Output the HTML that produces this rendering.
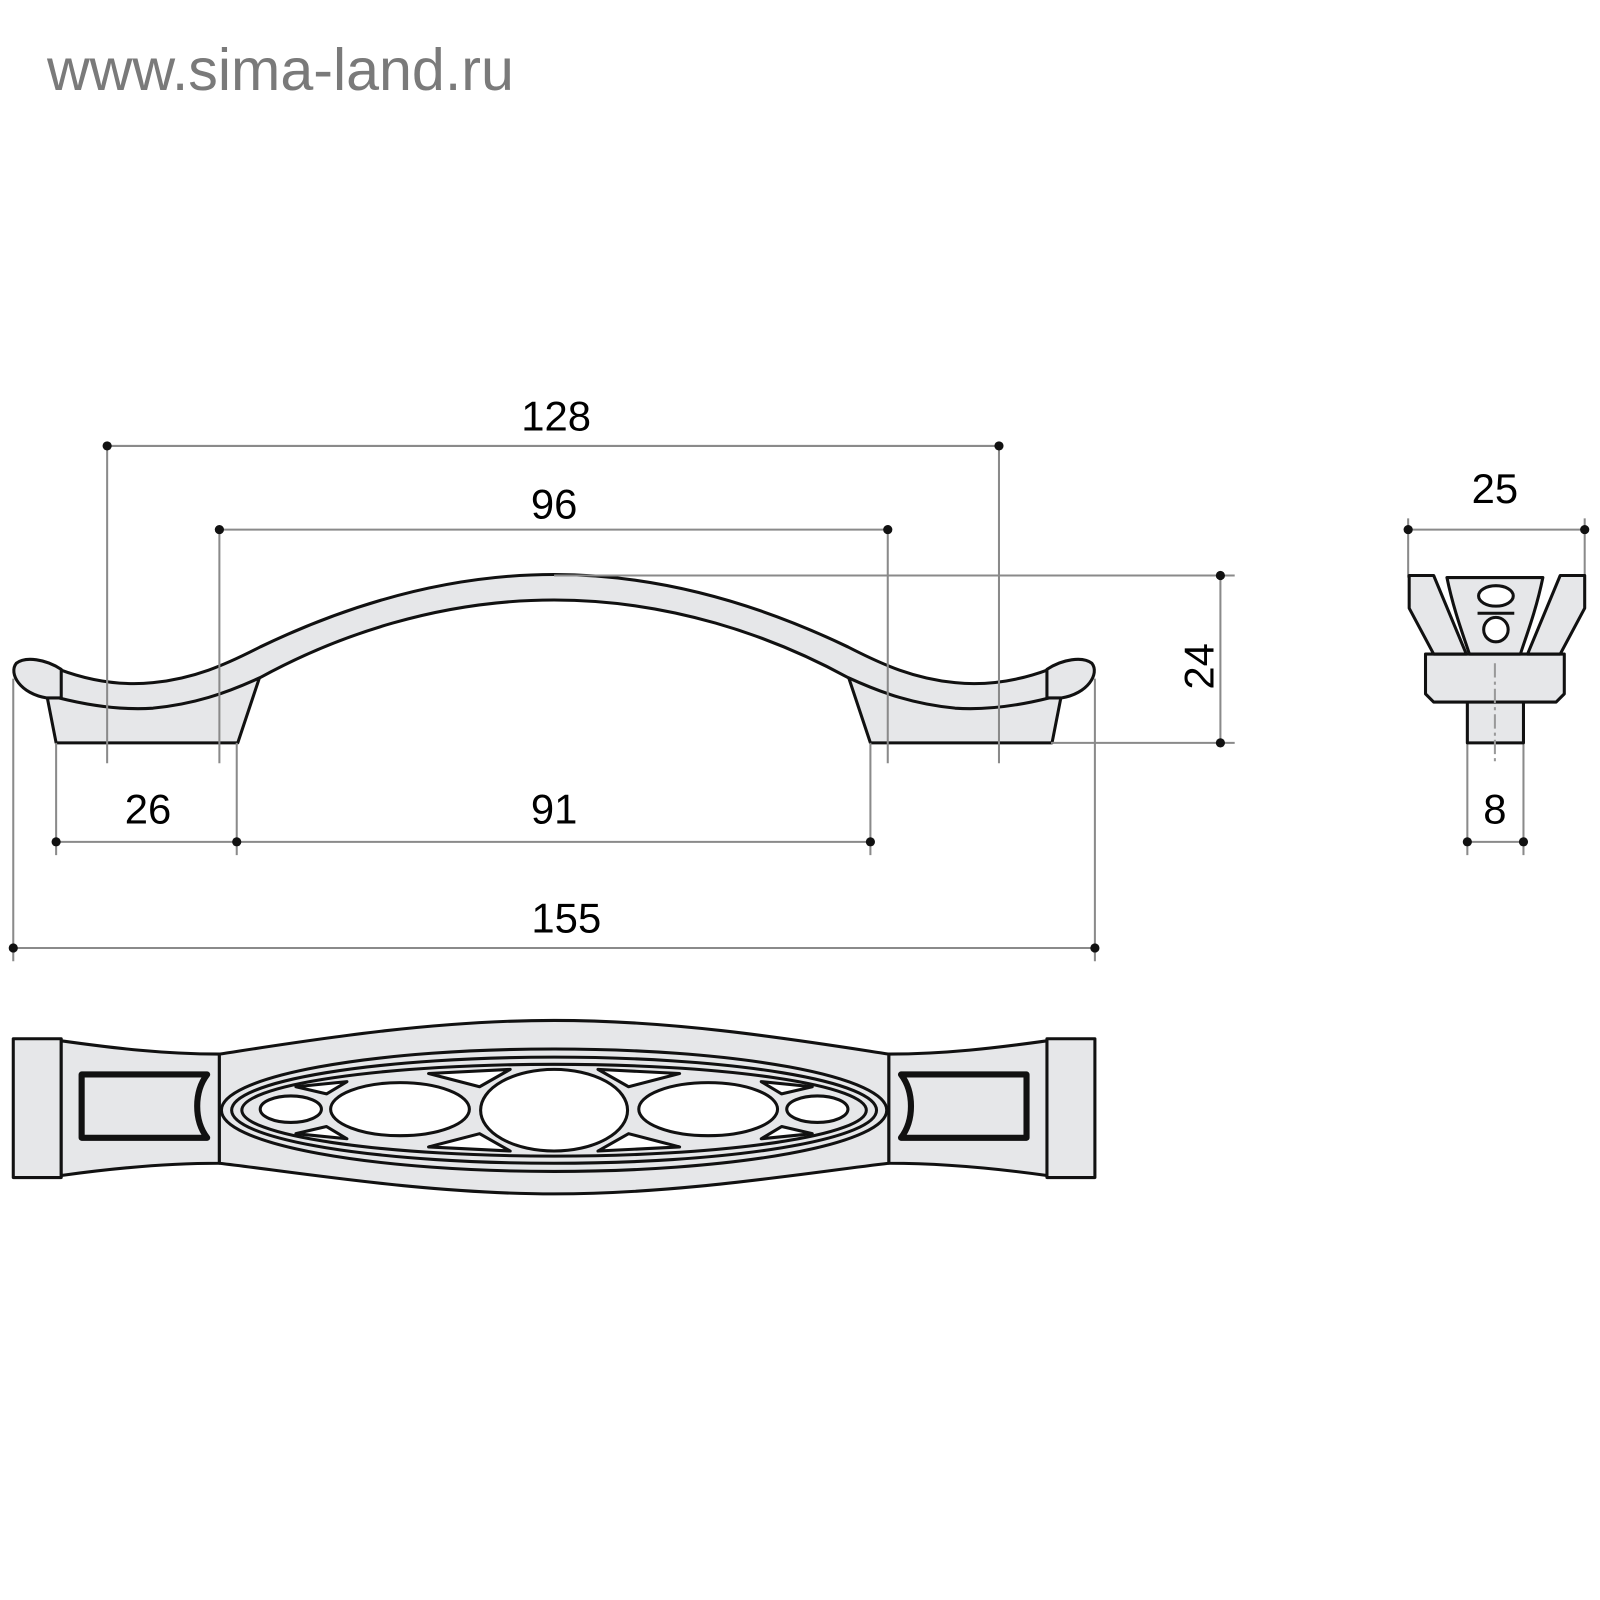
<!DOCTYPE html>
<html><head><meta charset="utf-8"><style>
html,body{margin:0;padding:0;background:#fff;width:1600px;height:1600px;overflow:hidden}
svg{display:block}
text{font-family:"Liberation Sans",sans-serif;fill:#000}
</style></head><body>
<svg width="1600" height="1600" viewBox="0 0 1568 1568" xmlns="http://www.w3.org/2000/svg">
<text x="46" y="88" font-size="58" style="fill:#7a7a7a">www.sima-land.ru</text>

<!-- side view -->
<g fill="#e6e7e9" stroke="#111" stroke-width="3" stroke-linejoin="round">
  <path d="M46,682 L55,728 L233,728 L255,662 Z"/>
  <path d="M1040,682 L1031,728 L853,728 L831,662 Z"/>
  <path d="M58,656 C90,668 120,672 150,669 C190,665 220,652 255,634 C330,598 430,563 543,563 C656,563 756,598 831,634 C866,652 896,665 936,669 C966,672 996,668 1028,656 L1028,684 C996,692 966,696 936,694 C896,690 866,680 831,664 C756,623 656,588 543,588 C430,588 330,623 255,664 C220,680 190,690 150,694 C120,696 90,692 58,684 Z"/>
  <path d="M60,656 C45,646 25,643 16,650 C8,660 20,680 46,684 L60,684 Z"/>
  <path d="M1026,656 C1041,646 1061,643 1070,650 C1078,660 1066,680 1040,684 L1026,684 Z"/>
</g>

<!-- dimension lines -->
<g stroke="#8a8a8a" stroke-width="2" fill="none">
  <line x1="105" y1="437" x2="979" y2="437"/>
  <line x1="105" y1="437" x2="105" y2="748"/>
  <line x1="979" y1="437" x2="979" y2="748"/>
  <line x1="215" y1="519" x2="870" y2="519"/>
  <line x1="215" y1="519" x2="215" y2="748"/>
  <line x1="870" y1="519" x2="870" y2="748"/>
  <line x1="543" y1="564" x2="1210" y2="564"/>
  <line x1="1030" y1="728" x2="1210" y2="728"/>
  <line x1="1196" y1="564" x2="1196" y2="728"/>
  <line x1="55" y1="825" x2="853" y2="825"/>
  <line x1="55" y1="728" x2="55" y2="838"/>
  <line x1="232" y1="728" x2="232" y2="838"/>
  <line x1="853" y1="728" x2="853" y2="838"/>
  <line x1="13" y1="929" x2="1073" y2="929"/>
  <line x1="13" y1="665" x2="13" y2="942"/>
  <line x1="1073" y1="665" x2="1073" y2="942"/>
  <line x1="1380" y1="519" x2="1553" y2="519"/>
  <line x1="1380" y1="508" x2="1380" y2="566"/>
  <line x1="1553" y1="508" x2="1553" y2="566"/>
  <line x1="1438" y1="825" x2="1493" y2="825"/>
  <line x1="1438" y1="728" x2="1438" y2="838"/>
  <line x1="1493" y1="728" x2="1493" y2="838"/>
</g>
<g fill="#111">
  <circle cx="105" cy="437" r="4.5"/><circle cx="979" cy="437" r="4.5"/>
  <circle cx="215" cy="519" r="4.5"/><circle cx="870" cy="519" r="4.5"/>
  <circle cx="1196" cy="564" r="4.5"/><circle cx="1196" cy="728" r="4.5"/>
  <circle cx="55" cy="825" r="4.5"/><circle cx="232" cy="825" r="4.5"/><circle cx="853" cy="825" r="4.5"/>
  <circle cx="13" cy="929" r="4.5"/><circle cx="1073" cy="929" r="4.5"/>
  <circle cx="1380" cy="519" r="4.5"/><circle cx="1553" cy="519" r="4.5"/>
  <circle cx="1438" cy="825" r="4.5"/><circle cx="1493" cy="825" r="4.5"/>
</g>
<g font-size="41" text-anchor="middle">
  <text x="545" y="422">128</text>
  <text x="543" y="508">96</text>
  <text x="145" y="807">26</text>
  <text x="543" y="807">91</text>
  <text x="555" y="914">155</text>
  <text x="1465" y="493">25</text>
  <text x="1465" y="807">8</text>
  <text transform="translate(1189,653) rotate(-90)">24</text>
</g>

<!-- end view -->
<g fill="#e6e7e9" stroke="#111" stroke-width="3" stroke-linejoin="round">
  <rect x="1438" y="678" width="55" height="50"/>
  <path d="M1397,641 L1533,641 L1533,680 L1525,688 L1405,688 L1397,680 Z"/>
  <path d="M1381,564 L1405,564 L1437,641 L1405,641 L1381,596 Z"/>
  <path d="M1553,564 L1529,564 L1497,641 L1529,641 L1553,596 Z"/>
  <path d="M1418,566 L1512,566 C1505,600 1495,625 1490,641 L1440,641 C1435,625 1425,600 1418,566 Z"/>
  <ellipse cx="1466" cy="584" rx="17" ry="10" fill="#fff"/>
  <circle cx="1466" cy="617" r="12" fill="#fff"/>
  <path d="M1448,601 L1484,601" />
</g>
<line x1="1465" y1="650" x2="1465" y2="748" stroke="#999" stroke-width="2" stroke-dasharray="14,4,3,4"/>

<!-- top view -->
<g fill="#e6e7e9" stroke="#111" stroke-width="3" stroke-linejoin="round">
  <rect x="13" y="1018" width="47" height="136"/>
  <rect x="1026" y="1018" width="47" height="136"/>
  <path d="M60,1020 C110,1027 160,1033 215,1033 L215,1140 C160,1140 110,1145 60,1152 Z"/>
  <path d="M1026,1020 C976,1027 926,1033 871,1033 L871,1140 C926,1140 976,1145 1026,1152 Z"/>
  <path d="M215,1033 C300,1020 420,1000 543,1000 C666,1000 786,1020 871,1033 L871,1140 C786,1150 666,1170 543,1170 C420,1170 300,1150 215,1140 Z"/>
  <path d="M80,1053 L203,1053 C190,1070 190,1098 203,1115 L80,1115 Z" stroke-width="6"/>
  <path d="M1006,1053 L883,1053 C896,1070 896,1098 883,1115 L1006,1115 Z" stroke-width="6"/>
  <ellipse cx="543" cy="1088" rx="326" ry="60"/>
  <ellipse cx="543" cy="1088" rx="316" ry="52"/>
  <ellipse cx="543" cy="1088" rx="306" ry="45"/>
  <path d="M420,1052 L500,1048 L470,1065 Z M666,1052 L586,1048 L616,1065 Z M420,1124 L500,1128 L470,1111 Z M666,1124 L586,1128 L616,1111 Z" fill="#fff"/>
  <path d="M290,1065 L340,1060 L320,1072 Z M796,1065 L746,1060 L766,1072 Z M290,1111 L340,1116 L320,1104 Z M796,1111 L746,1116 L766,1104 Z" fill="#fff"/>
  <ellipse cx="543" cy="1088" rx="72" ry="40" fill="#fff"/>
  <ellipse cx="392" cy="1087" rx="68" ry="26" fill="#fff"/>
  <ellipse cx="694" cy="1087" rx="68" ry="26" fill="#fff"/>
  <ellipse cx="285" cy="1087" rx="30" ry="13" fill="#fff"/>
  <ellipse cx="801" cy="1087" rx="30" ry="13" fill="#fff"/>
</g>
</svg>
</body></html>
